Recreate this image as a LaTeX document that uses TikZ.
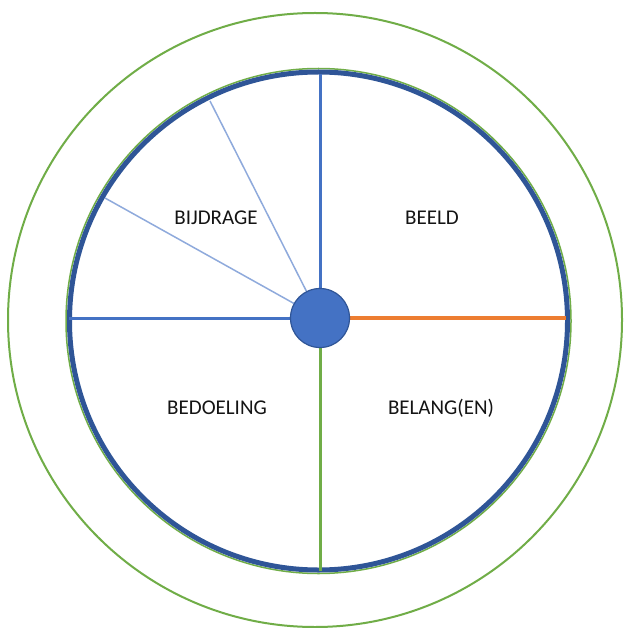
\documentclass[tikz,border=0pt]{standalone}
\usepackage{fontspec}
\setmainfont{Carlito}
\definecolor{obl}{HTML}{4472C4}
\definecolor{dbl}{HTML}{2F5597}
\definecolor{ogr}{HTML}{70AD47}
\definecolor{oor}{HTML}{ED7D31}
\definecolor{lbl}{HTML}{8FAADC}
\begin{document}
\begin{tikzpicture}[x=1pt,y=-1pt,
  lab/.style={font=\fontsize{21}{25}\selectfont, text=black!92},
  spoke/.style={obl, line width=3pt},
  thin/.style={lbl, line width=1.5pt}]
\useasboundingbox (0,0) rectangle (623,628);
\fill[white] (0,0) rectangle (623,628);
% outer circle
\draw[ogr, line width=2pt] (315,320) circle[radius=307];
% inner circle
\coordinate (c) at (320,318);
\draw[ogr, line width=1.5pt] (318.5,321) circle[radius=252.5];
\draw[dbl, line width=5pt] (318.5,321) circle[radius=249];
% spokes
\coordinate (top) at (320,74);
\coordinate (bot) at (320,571);
\coordinate (lft) at (69,318);
\coordinate (rgt) at (566,318);
\coordinate (t1) at (210,101);
\coordinate (t2) at (105,198);
\draw[thin] (c) -- (t1);
\draw[thin] (c) -- (t2);
\draw[spoke] (c) -- (top);
\draw[spoke] (c) -- (lft);
\draw[ogr, line width=3pt] (c) -- (bot);
\draw[oor, line width=4pt] (c) -- (rgt);
\node[circle, fill=obl, draw=dbl, line width=1.2pt, minimum size=59pt, inner sep=0pt] (hub) at (c) {};
% labels
\node[lab] (bijdrage) at (216,218) {BIJDRAGE};
\node[lab] (beeld) at (432,218) {BEELD};
\node[lab] (bedoeling) at (217,408) {BEDOELING};
\node[lab] (belang) at (441,408) {BELANG(EN)};
\end{tikzpicture}
\end{document}
